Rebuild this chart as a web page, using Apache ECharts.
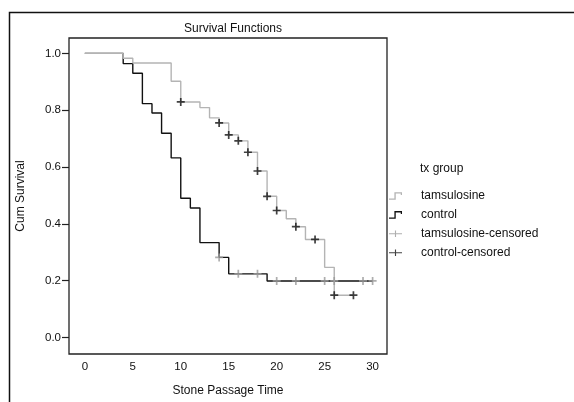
<!DOCTYPE html>
<html>
<head>
<meta charset="utf-8">
<script src="https://cdn.jsdelivr.net/npm/echarts@6/dist/echarts.min.js"></script>
<style>html,body{margin:0;padding:0;background:#fff}#c{width:574px;height:402px}</style>
</head>
<body>
<div id="c"></div>
<script>
// ---- data ----
const xTicks = [0, 5, 10, 15, 20, 25, 30];
const yTicks = [0, 0.2, 0.4, 0.6, 0.8, 1.0];

// light grey step curve ("tamsulosine" in the legend)
const tamsTimes = [0, 4, 5, 9, 10, 12, 13, 14, 15, 16, 17, 18, 19, 20, 21, 22, 23, 25, 26, 28];
const tamsSurv  = [1.0, 0.983, 0.966, 0.902, 0.829, 0.809, 0.773, 0.755, 0.713, 0.692, 0.652, 0.586, 0.497, 0.447, 0.418, 0.39, 0.345, 0.247, 0.149, 0.149];

// black step curve ("control" in the legend)
const ctrlTimes = [0, 4, 5, 6, 7, 8, 9, 10, 11, 12, 14, 15, 19, 30];
const ctrlSurv  = [1.0, 0.964, 0.93, 0.823, 0.79, 0.719, 0.632, 0.49, 0.456, 0.334, 0.282, 0.224, 0.199, 0.199];

// grey "+" marks ("tamsulosine-censored" in the legend), drawn on the black curve
const greyCensTimes = [14, 16, 18, 20, 22, 25, 26, 29, 30];
const greyCensSurv  = [0.282, 0.224, 0.224, 0.199, 0.199, 0.199, 0.199, 0.199, 0.199];

// black "+" marks ("control-censored" in the legend), drawn on the grey curve
const blackCensTimes = [10, 14, 15, 16, 17, 18, 19, 20, 22, 24, 26, 28];
const blackCensSurv  = [0.829, 0.755, 0.713, 0.692, 0.652, 0.586, 0.497, 0.447, 0.39, 0.345, 0.149, 0.149];

const pair = (xs, ys) => xs.map((x, i) => [x, ys[i]]);

const FONT = "'Liberation Sans', Arial, sans-serif";
const GREY = '#b4b4b4';
const GREY_MARK = '#9a9a9a';
const BLACK = '#111111';

const plusPath = 'path://M5.5,0 L8.5,0 L8.5,5.5 L14,5.5 L14,8.5 L8.5,8.5 L8.5,14 L5.5,14 L5.5,8.5 L0,8.5 L0,5.5 L5.5,5.5 Z';
const stepIcon = 'path://M0,6.6 L5.6,6.6 L5.6,0 L13.5,0 L13.5,3 L12.2,3 L12.2,1.4 L7,1.4 L7,8 L0,8 Z';
const censIcon = 'path://M0,3.4 L6.4,3.4 L6.4,0.5 L7.6,0.5 L7.6,3.4 L14,3.4 L14,4.6 L7.6,4.6 L7.6,7.5 L6.4,7.5 L6.4,4.6 L0,4.6 Z';

const chart = echarts.init(document.getElementById('c'), null, {renderer: 'canvas'});
chart.setOption({
  animation: false,
  backgroundColor: '#fff',
  title: {
    text: 'Survival Functions',
    left: 228, top: 18, textAlign: 'center',
    textStyle: {fontFamily: FONT, fontSize: 12, fontWeight: 'normal', color: '#111'}
  },
  graphic: [
    {type: 'rect', left: 7, top: 10, shape: {width: 620, height: 440},
     style: {fill: 'none', stroke: '#111', lineWidth: 1.5}, silent: true},
    {type: 'text', left: 420, top: 163,
     style: {text: 'tx group', fontFamily: FONT, fontSize: 12, fill: '#111'}}
  ],
  legend: {
    orient: 'vertical', left: 384, top: 185,
    itemWidth: 13, itemHeight: 8, itemGap: 6.9,
    textStyle: {fontFamily: FONT, fontSize: 12, color: '#111', padding: [0, 0, 0, 14]},
    data: [
      {name: 'tamsulosine', icon: stepIcon},
      {name: 'control', icon: stepIcon},
      {name: 'tamsulosine-censored', icon: censIcon},
      {name: 'control-censored', icon: censIcon}
    ],
    selectedMode: false
  },
  grid: {
    left: 69, top: 38, width: 318, height: 321,
    show: true, borderColor: '#222', borderWidth: 1.3, backgroundColor: 'transparent'
  },
  xAxis: {
    type: 'value', min: -1.65, max: 31.5,
    name: 'Stone Passage Time', nameLocation: 'middle', nameGap: 31,
    nameTextStyle: {fontFamily: FONT, fontSize: 12, color: '#111'},
    axisLine: {show: false, onZero: false},
    axisTick: {show: false},
    splitLine: {show: false},
    axisLabel: {customValues: xTicks, fontFamily: FONT, fontSize: 11.5, color: '#111', margin: 7}
  },
  yAxis: {
    type: 'value', min: -0.058, max: 1.054,
    name: 'Cum Survival', nameLocation: 'middle', nameGap: 42,
    nameTextStyle: {fontFamily: FONT, fontSize: 12, color: '#111'},
    axisLine: {show: false, onZero: false},
    axisTick: {show: true, customValues: yTicks, length: 7, lineStyle: {color: '#222', width: 1.2}},
    splitLine: {show: false},
    axisLabel: {customValues: yTicks, formatter: v => v.toFixed(1), fontFamily: FONT, fontSize: 11.5, color: '#111', margin: 8}
  },
  series: [
    {
      name: 'control', type: 'line', step: 'end', data: pair(ctrlTimes, ctrlSurv),
      symbol: 'none', z: 2,
      lineStyle: {color: BLACK, width: 1.4}, itemStyle: {color: BLACK}
    },
    {
      name: 'tamsulosine', type: 'line', step: 'end', data: pair(tamsTimes, tamsSurv),
      symbol: 'none', z: 3,
      lineStyle: {color: GREY, width: 1.4}, itemStyle: {color: GREY}
    },
    {
      name: 'tamsulosine-censored', type: 'scatter', data: pair(greyCensTimes, greyCensSurv),
      symbol: plusPath, symbolSize: 8, z: 4,
      itemStyle: {color: GREY_MARK}
    },
    {
      name: 'control-censored', type: 'scatter', data: pair(blackCensTimes, blackCensSurv),
      symbol: plusPath, symbolSize: 8, z: 5,
      itemStyle: {color: BLACK}
    }
  ]
});
</script>
</body>
</html>
